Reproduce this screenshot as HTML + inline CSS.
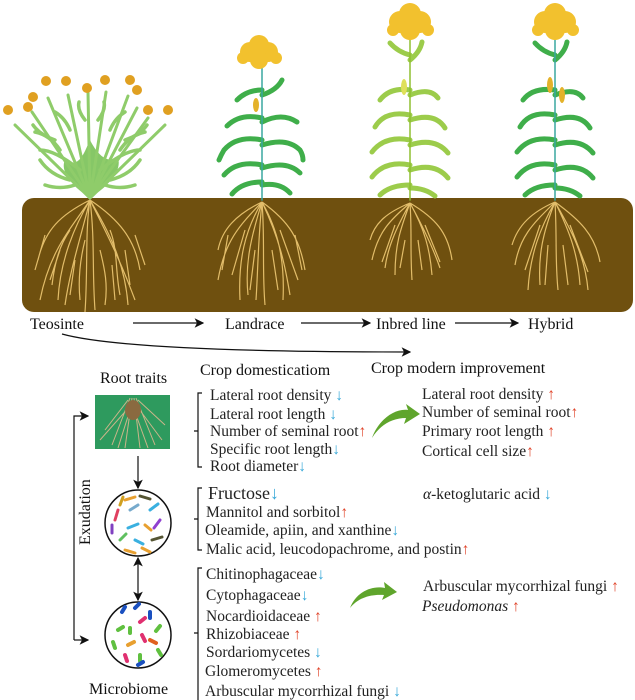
<!DOCTYPE html>
<html><head><meta charset="utf-8"><style>
body{margin:0;background:#fff;}
svg{display:block;font-family:"Liberation Serif",serif;}
.t{font-size:15.5px;fill:#222;}
.u{fill:#e0442a;}
.d{fill:#35a7d8;}
</style></head><body>
<svg width="635" height="700" viewBox="0 0 635 700" xmlns="http://www.w3.org/2000/svg">
<defs>
<marker id="ah" markerWidth="8" markerHeight="8" refX="7" refY="4" orient="auto"><path d="M0,0 L8,4 L0,8 L2,4z" fill="#111"/></marker>
</defs>
<rect x="22" y="198" width="611" height="114" rx="12" fill="#6f500f"/>
<g stroke="#e2bd6a" stroke-width="1.2" fill="none">
<path d="M90 200 C70 230 50 250 40 300 M90 200 C80 240 70 270 65 305 M90 200 C95 240 92 270 95 310 M90 200 C110 240 120 260 135 300 M90 200 C120 220 135 240 140 270 M90 200 C60 215 45 230 38 260 M70 230 C60 245 55 260 52 285 M110 230 C118 250 115 270 120 295 M85 240 C80 260 78 280 80 300 M100 250 C105 270 108 285 105 305 M60 250 L50 280 M125 250 L130 285 M90 200 C75 225 60 260 58 300 M90 200 C105 225 125 260 128 305 M90 200 C85 230 88 270 85 312 M45 235 L35 270 M135 235 L145 265 M75 260 L70 295 M112 265 L115 300"/>
<path d="M262 202 C240 225 225 240 218 280 M262 202 C250 240 245 265 248 295 M262 202 C265 240 262 270 265 305 M262 202 C280 240 285 265 290 295 M262 202 C290 222 300 240 305 270 M262 202 C235 215 222 230 218 250 M245 230 L232 275 M280 230 L298 280 M255 250 L250 290 M272 250 L278 290 M262 202 C245 230 238 260 240 300 M262 202 C278 230 285 260 283 300 M262 202 C258 240 258 270 256 300 M228 235 L222 270 M295 235 L302 270"/>
<path d="M410 203 C390 220 378 232 372 260 M410 203 C400 230 395 245 395 275 M410 203 C412 230 410 250 412 280 M410 203 C425 230 430 250 432 275 M410 203 C435 218 448 232 452 260 M410 203 C388 212 375 222 370 240 M395 225 L382 262 M425 225 L440 262 M405 240 L400 268 M418 240 L422 270 M410 203 C398 225 388 245 385 268 M410 203 C422 225 432 245 440 268"/>
<path d="M555 202 C535 222 520 235 515 265 M555 202 C543 232 538 255 540 285 M555 202 C557 235 555 260 558 290 M555 202 C570 232 578 255 580 285 M555 202 C580 220 595 235 600 262 M555 202 C532 212 518 225 512 245 M540 225 L525 270 M570 225 L588 272 M548 245 L545 285 M563 245 L568 285 M555 202 C540 228 530 255 528 290 M555 202 C570 228 585 255 588 290"/>
</g>
<path d="M90 198 C70 185 60 170 65 160 C80 170 85 150 90 140 C95 150 105 165 118 158 C122 170 110 185 90 198z" fill="#86c767"/>
<g stroke="#8fcc6a" stroke-width="3" fill="none" stroke-linecap="round">
<path d="M90 198 L15 125 M90 198 L32 112 M90 198 L48 98 M90 198 L68 95 M90 198 L88 92 M90 198 L106 92 M90 198 L128 96 M90 198 L137 108 M90 198 L165 125 M90 198 L148 118"/>
<path d="M70 180 q-20 -5 -30 -20 M110 180 q20 -5 30 -20 M80 170 q-25 -20 -40 -20 M100 170 q25 -20 40 -20 M60 150 q-10 -15 -25 -18 M120 150 q10 -15 25 -18 M75 185 q-15 5 -30 0 M105 185 q15 5 30 0 M55 140 q-15 -5 -22 -15 M125 140 q15 -5 22 -15 M70 130 q-5 -12 -15 -18 M110 130 q5 -12 15 -18 M85 120 q-8 -10 -6 -18 M98 120 q8 -10 6 -18" stroke-width="3.5"/>
</g>
<g fill="#e0a021">
<circle cx="8" cy="110" r="5"/><circle cx="28" cy="107" r="5"/><circle cx="33" cy="97" r="5"/><circle cx="46" cy="81" r="5"/><circle cx="66" cy="81" r="5"/><circle cx="87" cy="88" r="5"/><circle cx="105" cy="80" r="5"/><circle cx="130" cy="80" r="5"/><circle cx="137" cy="90" r="5"/><circle cx="148" cy="110" r="5"/><circle cx="168" cy="110" r="5"/>
</g>
<g fill="none" stroke-linecap="round">
<g stroke="#3fae4a" stroke-width="5">
<path d="M262 90 q-15 0 -25 10 M262 95 q15 -5 20 -15 M262 118 q-22 -5 -35 8 M262 122 q20 -10 35 0 M262 140 q-25 -5 -38 10 q-3 5 -5 10 M262 145 q25 -8 38 5 q3 5 3 10 M262 165 q-25 -5 -38 10 M262 168 q25 -8 38 5 M262 182 q-20 0 -30 12 M262 185 q18 -3 28 8"/>
</g>
<path d="M262 200 L262 60" stroke="#3aa7a0" stroke-width="1.5"/>
<g stroke="#9ccc4b" stroke-width="5">
<path d="M410 55 q-12 -3 -20 -12 M410 60 q10 -8 12 -18 M410 90 q-20 -3 -30 10 M410 95 q20 -8 28 3 M410 115 q-25 -5 -35 12 M410 120 q25 -8 35 8 M410 140 q-25 -5 -38 12 M410 145 q25 -8 38 8 M410 165 q-25 -5 -38 12 M410 170 q25 -8 38 8 M410 185 q-20 0 -30 10 M410 188 q15 0 25 8"/>
</g>
<path d="M410 200 L410 30" stroke="#8fbf30" stroke-width="1.5"/>
<g stroke="#3fae4a" stroke-width="5">
<path d="M555 55 q-12 -3 -20 -12 M555 60 q10 -8 12 -18 M555 90 q-22 -3 -32 10 M555 95 q20 -8 28 3 M555 115 q-25 -5 -35 12 M555 120 q25 -8 35 8 M555 140 q-25 -5 -38 12 M555 145 q25 -8 38 8 M555 165 q-25 -5 -38 12 M555 170 q25 -8 38 8 M555 185 q-20 0 -30 10 M555 188 q15 0 25 8"/>
</g>
<path d="M555 200 L555 30" stroke="#3aa7a0" stroke-width="1.5"/>
</g>
<g fill="#f2c12e">
<circle cx="250" cy="52" r="10"/><circle cx="268" cy="52" r="10"/><circle cx="259" cy="45" r="10"/><circle cx="259" cy="60" r="9"/><circle cx="243" cy="58" r="6"/><circle cx="276" cy="58" r="6"/>
<circle cx="400" cy="22" r="11"/><circle cx="420" cy="22" r="11"/><circle cx="410" cy="14" r="11"/><circle cx="410" cy="30" r="10"/><circle cx="393" cy="30" r="6"/><circle cx="428" cy="30" r="6"/>
<circle cx="545" cy="22" r="11"/><circle cx="565" cy="22" r="11"/><circle cx="555" cy="14" r="11"/><circle cx="555" cy="30" r="10"/><circle cx="538" cy="30" r="6"/><circle cx="573" cy="30" r="6"/>
<ellipse cx="256" cy="105" rx="3" ry="7" fill="#e4b22a"/>
<ellipse cx="404" cy="87" rx="3" ry="8" fill="#dfe05a"/>
<ellipse cx="550" cy="85" rx="3" ry="8" fill="#e4b22a"/><ellipse cx="562" cy="95" rx="3" ry="8" fill="#e4b22a"/>
</g>
<g font-size="16" fill="#111">
<text x="30" y="329">Teosinte</text>
<text x="225" y="329">Landrace</text>
<text x="376" y="329">Inbred line</text>
<text x="528" y="329">Hybrid</text>
<text x="200" y="375">Crop domesticatiom</text>
<text x="371" y="373">Crop modern improvement</text>
<text x="100" y="383">Root traits</text>
<text x="89" y="694">Microbiome</text>
<text transform="translate(90,545) rotate(-90)">Exudation</text>
</g>
<g stroke="#111" stroke-width="1.2" fill="none">
<path d="M133 323 L203 323" marker-end="url(#ah)"/>
<path d="M301 323 L370 323" marker-end="url(#ah)"/>
<path d="M455 323 L518 323" marker-end="url(#ah)"/>
<path d="M62 334 C120 350 300 352 410 352" marker-end="url(#ah)"/>
<path d="M74 640 L74 416 L88 416" marker-end="url(#ah)"/>
<path d="M74 640 L88 640" marker-end="url(#ah)"/>
<path d="M138 456 L138 488" marker-end="url(#ah)"/>
<path d="M138 570 L138 600" marker-end="url(#ah)"/>
<path d="M138 570 L138 558" marker-end="url(#ah)"/>
<path d="M202 393 L198 393 L198 467 L202 467 M194 431 L198 431"/>
<path d="M202 488 L198 488 L198 550 L202 550 M194 519 L198 519"/>
<path d="M202 568 L198 568 L198 700 M194 633 L198 633"/>
</g>
<rect x="95" y="395" width="75" height="54" fill="#2e9a5e"/>
<g stroke="#cbb58a" stroke-width="1" fill="none">
<path d="M130 398 L112 445 M132 398 L125 448 M134 398 L140 448 M136 398 L155 445 M128 400 L105 430 M138 400 L165 425 M130 410 L118 448 M135 412 L148 448 M131 405 L100 440 M136 405 L162 440"/>
</g>
<ellipse cx="133" cy="410" rx="8" ry="10" fill="#8a6a40"/>
<circle cx="138" cy="523" r="33" fill="#fff" stroke="#111" stroke-width="1.5"/>
<g stroke-width="3" stroke-linecap="round">
<path d="M125 500 l10 -3" stroke="#e8a030"/><path d="M140 496 l10 3" stroke="#553"/><path d="M118 510 l-3 10" stroke="#e04060"/><path d="M130 510 l8 -5" stroke="#7ac"/><path d="M150 510 l8 -6" stroke="#3ab0e0"/><path d="M112 525 l0 8" stroke="#8040c0"/><path d="M128 528 l10 -4" stroke="#3ab0e0"/><path d="M145 525 l6 5" stroke="#e8a030"/><path d="M160 520 l-6 8" stroke="#9040d0"/><path d="M120 540 l6 -6" stroke="#60c060"/><path d="M135 540 l8 4" stroke="#3ab0e0"/><path d="M152 540 l10 -3" stroke="#553"/><path d="M125 550 l10 3" stroke="#e8a030"/><path d="M142 548 l8 4" stroke="#e8a030"/><path d="M120 505 l3 -8" stroke="#d0a020"/>
</g>
<circle cx="138" cy="635" r="33" fill="#fff" stroke="#111" stroke-width="1.5"/>
<g stroke-width="4" stroke-linecap="round">
<path d="M122 612 l3 -5" stroke="#1a50c0"/><path d="M135 608 l4 -4" stroke="#1a50c0"/><path d="M150 612 l0 6" stroke="#1a50c0"/><path d="M140 622 l5 -4" stroke="#e03070"/><path d="M118 630 l5 -3" stroke="#60c040"/><path d="M130 628 l0 5" stroke="#60c040"/><path d="M160 626 l-4 5" stroke="#60c040"/><path d="M142 635 l3 6" stroke="#e03070"/><path d="M113 642 l2 6" stroke="#60c040"/><path d="M128 645 l6 -3" stroke="#e8a030"/><path d="M150 640 l6 3" stroke="#e06020"/><path d="M125 655 l2 6" stroke="#e03070"/><path d="M140 655 l0 6" stroke="#60c040"/><path d="M158 650 l3 5" stroke="#60c040"/><path d="M138 665 l5 -3" stroke="#1a50c0"/>
</g>
<path d="M372 438 C378 420 395 408 408 410 L406 404 L420 414 L404 424 L406 418 C392 418 380 425 372 438z" fill="#5fa52c"/>
<path d="M350 608 C356 592 372 585 385 588 L384 582 L397 592 L382 600 L384 595 C370 594 358 598 350 608z" fill="#5fa52c"/>
<g class="t">
<text x="210" y="400">Lateral root density <tspan class="d">↓</tspan></text>
<text x="210" y="419">Lateral root length <tspan class="d">↓</tspan></text>
<text x="210" y="436">Number of seminal root<tspan class="u">↑</tspan></text>
<text x="210" y="454">Specific root length<tspan class="d">↓</tspan></text>
<text x="210" y="471">Root diameter<tspan class="d">↓</tspan></text>
<text x="422" y="399">Lateral root density <tspan class="u">↑</tspan></text>
<text x="422" y="417">Number of seminal root<tspan class="u">↑</tspan></text>
<text x="422" y="436">Primary root length <tspan class="u">↑</tspan></text>
<text x="422" y="456">Cortical cell size<tspan class="u">↑</tspan></text>
<text x="208" y="499" font-size="18">Fructose<tspan class="d">↓</tspan></text>
<text x="423" y="499"><tspan font-style="italic">α</tspan>-ketoglutaric acid <tspan class="d">↓</tspan></text>
<text x="206" y="517">Mannitol and sorbitol<tspan class="u">↑</tspan></text>
<text x="205" y="535">Oleamide, apiin, and xanthine<tspan class="d">↓</tspan></text>
<text x="206" y="554">Malic acid, leucodopachrome, and postin<tspan class="u">↑</tspan></text>
<text x="206" y="579">Chitinophagaceae<tspan class="d">↓</tspan></text>
<text x="206" y="600">Cytophagaceae<tspan class="d">↓</tspan></text>
<text x="206" y="621">Nocardioidaceae <tspan class="u">↑</tspan></text>
<text x="206" y="639">Rhizobiaceae <tspan class="u">↑</tspan></text>
<text x="206" y="657">Sordariomycetes <tspan class="d">↓</tspan></text>
<text x="205" y="676">Glomeromycetes <tspan class="u">↑</tspan></text>
<text x="205" y="696">Arbuscular mycorrhizal fungi <tspan class="d">↓</tspan></text>
<text x="423" y="591">Arbuscular mycorrhizal fungi <tspan class="u">↑</tspan></text>
<text x="422" y="611"><tspan font-style="italic">Pseudomonas</tspan> <tspan class="u">↑</tspan></text>
</g>
</svg>
</body></html>
